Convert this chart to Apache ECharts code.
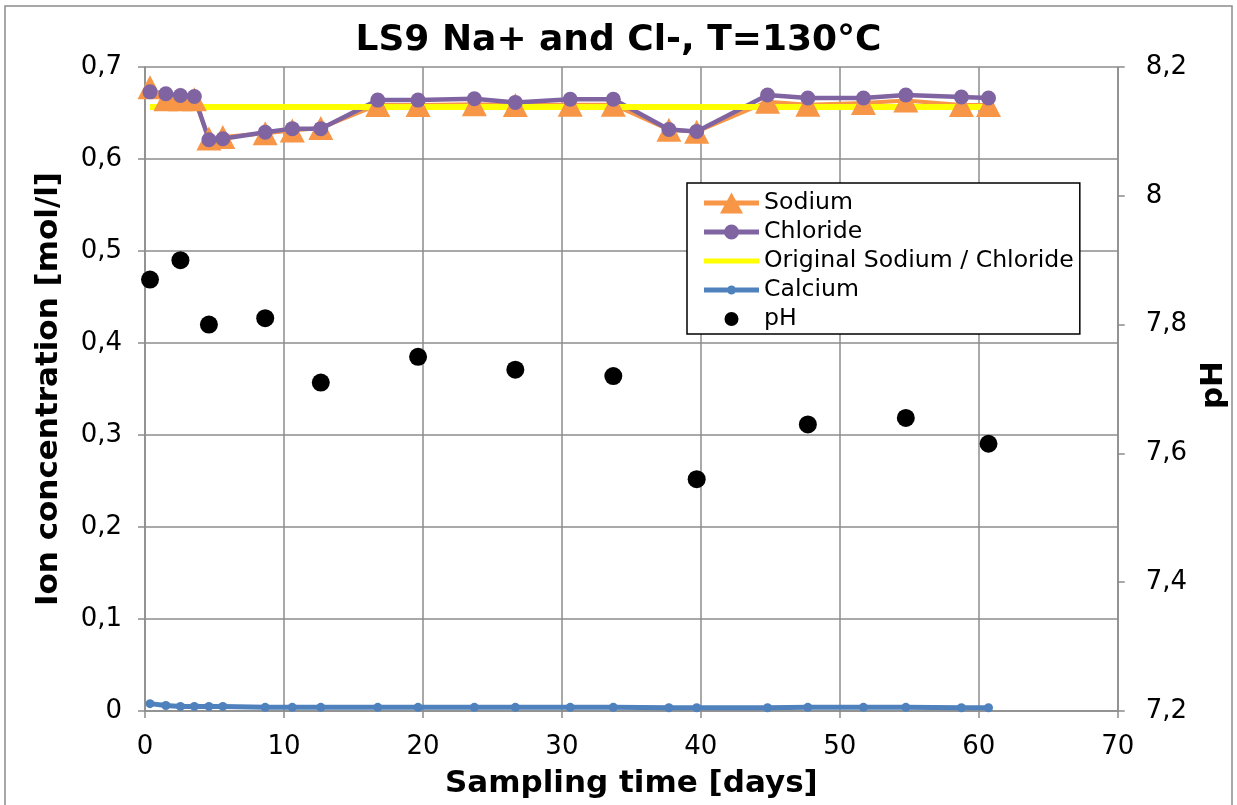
<!DOCTYPE html>
<html>
<head>
<meta charset="utf-8">
<script src="https://cdn.jsdelivr.net/npm/echarts@6/dist/echarts.min.js"></script>
<style>
html,body{margin:0;padding:0;background:#fff;}
#chart{width:1237px;height:805px;}
</style>
</head>
<body>
<div id="chart"></div>
<script>
// Sampling days
const days = [0.36, 1.5, 2.55, 3.55, 4.6, 5.6, 8.65, 10.6, 12.65, 16.75, 19.65, 23.7, 26.65, 30.6, 33.7, 37.7, 39.7, 44.8, 47.7, 51.7, 54.75, 58.75, 60.7];
const sodium = [0.678, 0.665, 0.665, 0.665, 0.6224, 0.624, 0.628, 0.631, 0.6337, 0.6587, 0.6587, 0.6594, 0.6587, 0.659, 0.659, 0.6318, 0.6297, 0.6623, 0.659, 0.6609, 0.6637, 0.6587, 0.6587];
const chloride = [0.673, 0.671, 0.669, 0.668, 0.621, 0.622, 0.629, 0.633, 0.633, 0.664, 0.664, 0.6655, 0.6615, 0.665, 0.665, 0.632, 0.630, 0.6696, 0.6663, 0.6663, 0.6696, 0.6674, 0.6663];
const originalDays = [0.36, 60.7];
const originalNaCl = [0.6565, 0.6565];
const calcium = [0.008, 0.006, 0.005, 0.005, 0.005, 0.005, 0.004, 0.004, 0.004, 0.004, 0.004, 0.004, 0.004, 0.004, 0.004, 0.0035, 0.0035, 0.0035, 0.004, 0.004, 0.004, 0.0035, 0.0035];
const phDays = [0.36, 2.55, 4.6, 8.65, 12.65, 19.65, 26.65, 33.7, 39.7, 47.7, 54.75, 60.7];
const phValues = [7.87, 7.90, 7.80, 7.81, 7.71, 7.75, 7.73, 7.72, 7.56, 7.645, 7.655, 7.615];
const seriesNames = ['Sodium', 'Chloride', 'Original Sodium / Chloride', 'Calcium', 'pH'];

const pair = (xs, ys) => xs.map((x, i) => [x, ys[i]]);
const fmt = v => String(+v.toFixed(2)).replace('.', ',');
const FONT = 'DejaVu Sans, sans-serif';
const gridColor = '#8c8c8c';

// legend icons (line + marker), all with the same 55x21 bounding box
const anchors = 'M0,0 L0.01,0 L0,0.01 Z M55,21 L54.99,21 L55,20.99 Z ';
const bar = 'M0,8 L55,8 L55,13 L0,13 Z ';
const circ = r => `M${27.5 + r},10.5 A${r},${r} 0 1 1 ${27.5 - r},10.5 A${r},${r} 0 1 1 ${27.5 + r},10.5 Z`;
const icons = {
  'Sodium': 'path://' + anchors + bar + 'M27.5,0 L39,21 L16,21 Z',
  'Chloride': 'path://' + anchors + bar + circ(7.5),
  'Original Sodium / Chloride': 'path://' + anchors + bar,
  'Calcium': 'path://' + anchors + bar + circ(4.5),
  'pH': 'path://' + anchors + circ(7)
};

const chart = echarts.init(document.getElementById('chart'), null, {renderer: 'canvas'});
chart.setOption({
  animation: false,
  backgroundColor: '#fff',
  title: {
    text: 'LS9 Na+ and Cl-, T=130°C',
    left: 'center', top: 18,
    textStyle: {fontFamily: FONT, fontWeight: 'bold', fontSize: 36, color: '#000'}
  },
  graphic: [{
    type: 'rect', shape: {x: 5, y: 6, width: 1227, height: 810},
    style: {fill: 'none', stroke: '#8c8c8c', lineWidth: 1.5}, silent: true, z: -1
  }],
  grid: {left: 145, right: 115, top: 67, bottom: 94},
  legend: {
    orient: 'vertical', left: 687, top: 183,
    padding: [8, 6, 3, 17],
    itemGap: 5, itemWidth: 55, itemHeight: 21,
    backgroundColor: '#fff', borderColor: '#000', borderWidth: 1.5,
    textStyle: {fontFamily: FONT, fontSize: 23.6, color: '#000'},
    data: seriesNames.map(n => ({name: n, icon: icons[n]}))
  },
  xAxis: {
    type: 'value', min: 0, max: 70, interval: 10,
    name: 'Sampling time [days]', nameLocation: 'middle', nameGap: 57,
    nameTextStyle: {fontFamily: FONT, fontWeight: 'bold', fontSize: 31, color: '#000'},
    axisLine: {show: true, onZero: false, lineStyle: {color: gridColor, width: 1.5}},
    axisTick: {show: true, inside: false, length: 7, lineStyle: {color: gridColor, width: 1.5}},
    axisLabel: {fontFamily: FONT, fontSize: 26, color: '#000', margin: 23},
    splitLine: {show: true, lineStyle: {color: gridColor, width: 1.5}}
  },
  yAxis: [{
    type: 'value', min: 0, max: 0.7, interval: 0.1,
    name: 'Ion concentration [mol/l]', nameLocation: 'middle', nameGap: 81, nameRotate: 90,
    nameTextStyle: {fontFamily: FONT, fontWeight: 'bold', fontSize: 31, color: '#000'},
    axisLine: {show: true, lineStyle: {color: gridColor, width: 1.5}},
    axisTick: {show: true, length: 7, lineStyle: {color: gridColor, width: 1.5}},
    axisLabel: {fontFamily: FONT, fontSize: 26, color: '#000', margin: 23, formatter: fmt},
    splitLine: {show: true, lineStyle: {color: gridColor, width: 1.5}}
  }, {
    type: 'value', min: 7.2, max: 8.2, interval: 0.2, position: 'right',
    name: 'pH', nameLocation: 'middle', nameGap: 80, nameRotate: 90,
    nameTextStyle: {fontFamily: FONT, fontWeight: 'bold', fontSize: 31, color: '#000', padding: [0, 0, 0, 8]},
    axisLine: {show: true, lineStyle: {color: gridColor, width: 1.5}},
    axisTick: {show: true, length: 7, lineStyle: {color: gridColor, width: 1.5}},
    axisLabel: {fontFamily: FONT, fontSize: 26, color: '#000', margin: 28, formatter: fmt},
    splitLine: {show: false}
  }],
  series: [{
    name: 'Sodium', type: 'line', yAxisIndex: 0,
    data: pair(days, sodium),
    symbol: 'triangle', symbolSize: [25, 24],
    lineStyle: {color: '#F79646', width: 4},
    itemStyle: {color: '#F79646'}
  }, {
    name: 'Chloride', type: 'line', yAxisIndex: 0,
    data: pair(days, chloride),
    symbol: 'circle', symbolSize: 15,
    lineStyle: {color: '#8064A2', width: 4.5},
    itemStyle: {color: '#8064A2'}
  }, {
    name: 'Original Sodium / Chloride', type: 'line', yAxisIndex: 0,
    data: pair(originalDays, originalNaCl),
    symbol: 'none',
    lineStyle: {color: '#FFFF00', width: 6},
    itemStyle: {color: '#FFFF00'}
  }, {
    name: 'Calcium', type: 'line', yAxisIndex: 0,
    data: pair(days, calcium),
    symbol: 'circle', symbolSize: 9,
    lineStyle: {color: '#4F81BD', width: 5},
    itemStyle: {color: '#4F81BD'}
  }, {
    name: 'pH', type: 'scatter', yAxisIndex: 1,
    data: pair(phDays, phValues),
    symbol: 'circle', symbolSize: 18,
    itemStyle: {color: '#000', opacity: 1}
  }]
});
</script>
</body>
</html>
